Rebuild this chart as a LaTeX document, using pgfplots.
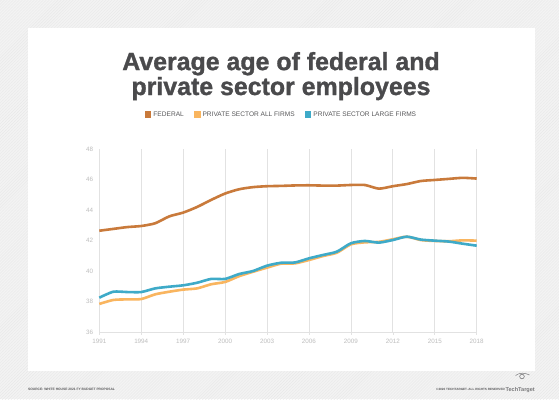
\documentclass[border=0pt]{standalone}
\usepackage{pgfplots}
\pgfplotsset{compat=1.18}
\usepackage{pgfplotstable}
\usepackage{fontspec}
\setmainfont{Liberation Sans}
\newfontfamily\titlefont[FakeBold=1.2]{Liberation Sans Bold}
\usetikzlibrary{patterns}
\definecolor{bgc}{HTML}{F3F3F3}
\definecolor{hatch}{HTML}{E9E9E9}
\definecolor{fedc}{HTML}{C97A3B}
\definecolor{allc}{HTML}{F9B55F}
\definecolor{largec}{HTML}{3EAAC8}
\definecolor{titlec}{HTML}{4A4A4C}
\definecolor{tickc}{HTML}{BDBDBD}
\definecolor{gridc}{HTML}{E2E2E2}
\definecolor{legc}{HTML}{58585A}

\pgfplotstableread{
year fed all large
1991 42.66 37.86 38.27
1992 42.78 38.12 38.66
1993 42.90 38.16 38.64
1994 42.97 38.18 38.64
1995 43.15 38.49 38.88
1996 43.60 38.66 38.99
1997 43.85 38.80 39.08
1998 44.22 38.88 39.25
1999 44.68 39.15 39.50
2000 45.10 39.30 39.50
2001 45.38 39.68 39.82
2002 45.52 39.97 40.02
2003 45.58 40.24 40.37
2004 45.60 40.50 40.56
2005 45.63 40.52 40.58
2006 45.64 40.74 40.85
2007 45.62 41.00 41.07
2008 45.62 41.22 41.29
2009 45.66 41.77 41.84
2010 45.66 41.90 41.99
2011 45.42 41.93 41.88
2012 45.58 42.10 42.05
2013 45.72 42.27 42.27
2014 45.92 42.05 42.08
2015 45.99 41.99 42.01
2016 46.06 41.97 41.95
2017 46.13 42.03 41.81
2018 46.08 42.01 41.68
}\datatable

\begin{document}
\begin{tikzpicture}[x=1bp,y=1bp]
\fill[bgc] (0,0) rectangle (559,399);
\fill[pattern=north east lines, pattern color=hatch] (0,0) rectangle (559,399);
\fill[white] (28,28) rectangle (535,371);
\node[align=center, text=titlec, font=\titlefont\fontsize{25}{25}\selectfont, anchor=base, inner sep=0pt] at (281,304) {Average age of federal and\\private sector employees};
\begin{axis}[
  at={(99.3bp,66.7bp)}, anchor=south west,
  scale only axis, width=377.4bp, height=183bp,
  xmin=1991, xmax=2018, ymin=36, ymax=48,
  xtick={1991,1994,...,2018}, minor x tick num=2,
  ytick={36,38,...,48},
  xticklabel style={/pgf/number format/1000 sep={}},
  /pgf/number format/assume math mode=true,
  ticklabel style={font=\fontsize{6.3}{7}\selectfont, text=tickc},
  axis x line=bottom, axis y line=left,
  x axis line style={draw=gridc, -}, y axis line style={draw=none},
  xtick style={draw=gridc, line width=0.6bp}, ytick style={draw=none},
  tick align=outside, major tick length=2.6bp, minor tick length=2.6bp,
  xmajorgrids, major grid style={draw=gridc, line width=0.7bp},
  xticklabel shift=1bp, yticklabel shift=0bp,
  legend columns=3,
  legend style={at={(0.4825,1.189)}, anchor=center, draw=none, fill=none,
    font=\fontsize{6.6}{7}\selectfont\color{legc}, inner sep=0pt,
    /tikz/every even column/.append style={column sep=8bp}},
  legend image code/.code={\fill[#1] (0bp,-2.1bp) rectangle (4.2bp,2.1bp);},
  clip=false,
]
\addplot[fedc, line width=2.6bp, smooth, tension=0.4] table[x=year, y=fed] {\datatable};
\addlegendentry{FEDERAL}
\addplot[allc, line width=2.6bp, smooth, tension=0.4] table[x=year, y=all] {\datatable};
\addlegendentry{PRIVATE SECTOR ALL FIRMS}
\addplot[largec, line width=2.6bp, smooth, tension=0.4] table[x=year, y=large] {\datatable};
\addlegendentry{PRIVATE SECTOR LARGE FIRMS}
\end{axis}
\node[anchor=base west, font=\fontsize{3.3}{4}\selectfont\bfseries, text=legc, inner sep=0pt] at (28,8.3) {SOURCE: WHITE HOUSE 2021 FY BUDGET PROPOSAL};
\node[anchor=base east, font=\fontsize{3.1}{4}\selectfont\bfseries, text=legc, inner sep=0pt] at (505,8.3) {©2020 TECHTARGET. ALL RIGHTS RESERVED};
\node[anchor=base east, font=\fontsize{5.6}{7}\selectfont\bfseries, text=legc!80, inner sep=0pt] at (535,7.8) {TechTarget};
\draw[legc!80, line width=0.6bp] (522,22.5) circle (2.3);
\draw[legc!80, line width=0.5bp] (515.5,23.5) .. controls (519.5,26.5) and (524.5,26.5) .. (529.5,24);
\end{tikzpicture}
\end{document}
